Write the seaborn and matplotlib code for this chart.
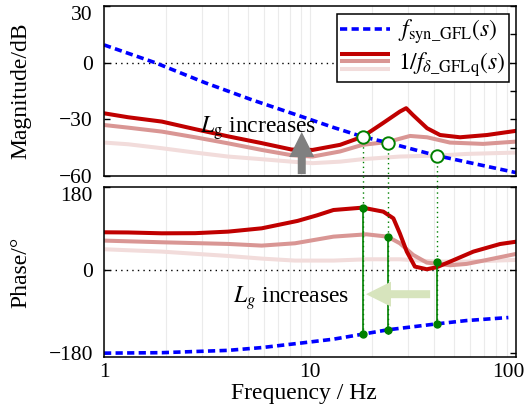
import numpy as np
import pandas as pd
import matplotlib
matplotlib.use("Agg")
import matplotlib.pyplot as plt
import matplotlib.transforms as mtransforms
import seaborn as sns
from matplotlib.lines import Line2D
from matplotlib.legend_handler import HandlerBase

# ---------------- data ----------------
syn_mag_f = [1, 1.77, 3.09, 5.23, 9.14, 13.0, 18.0, 23.8, 41.2, 100]
syn_mag = [9.4, 0.0, -10.6, -19.7, -28.6, -34.3, -39.2, -42.3, -49.2, -58.2]

syn_ph_f = [1, 1.91, 4.0, 5.83, 9.11, 13.0, 18.0, 23.8, 41.2, 57.6, 91.8]
syn_ph = [-180, -179, -174, -168, -158, -149.8, -139, -129.6, -116.7, -109.5, -103]

mag1_f = [1, 1.31, 1.91, 2.77, 4.0, 5.83, 8.15, 10.3, 14.0, 18.0, 22.6, 27.3, 29.3,
          31.6, 37.0, 42.8, 53.5, 72.3, 100]
mag1 = [-26.8, -28.9, -31.2, -35.2, -39.0, -42.6, -46.0, -46.2, -43.5, -39.2, -32.0,
        -25.9, -24.1, -27.7, -34.7, -38.3, -39.5, -38.3, -36.1]

mag2_f = [1, 1.31, 1.91, 2.77, 4.0, 5.83, 8.15, 10.3, 14.0, 18.0, 23.8, 30.6, 37.0,
          47.8, 69.2, 100]
mag2 = [-33.0, -34.4, -36.5, -39.5, -42.7, -46.2, -49.0, -49.7, -47.0, -43.5, -42.0,
        -38.8, -39.5, -42.3, -43.0, -41.8]

mag3_f = [1, 1.31, 1.91, 2.77, 4.0, 5.83, 8.15, 10.3, 14.0, 18.0, 27.3, 41.2, 57.9, 100]
mag3 = [-42.3, -43.2, -45.3, -47.6, -49.7, -51.1, -52.4, -53.2, -52.4, -51.1, -49.7,
        -49.2, -48.3, -47.6]

ph1_f = [1, 1.31, 1.91, 2.77, 4.0, 5.83, 8.7, 10.8, 13.0, 18.0, 22.7, 25.4, 27.3, 29.5,
         32.3, 36.9, 41.2, 47.9, 62.1, 83.6, 100]
ph1 = [81.4, 81.0, 79.2, 79.5, 82.8, 90.0, 106.0, 118.0, 129.6, 134.7, 126.0, 111.6,
       79.0, 39.6, 7.2, 1.4, 5.8, 18.0, 39.6, 56.0, 61.0]

ph2_f = [1, 1.91, 4.0, 5.83, 8.45, 13.0, 18.8, 23.8, 27.3, 31.7, 36.9, 47.9, 57.6, 72.1, 100]
ph2 = [63.4, 59.8, 56.2, 52.6, 57.6, 72.0, 77.0, 72.0, 57.6, 32.4, 15.8, 10.1, 13.0,
       21.6, 34.6]

ph3_f = [1, 1.91, 4.0, 5.83, 8.45, 13.0, 18.8, 27.3, 41.2, 57.6, 100]
ph3 = [44.7, 39.6, 30.2, 24.5, 20.2, 20.2, 23.0, 23.0, 18.0, 18.0, 21.6]

# crossing points
cross_f = [18.0, 23.8, 41.2]
cross_mag = [-39.2, -42.3, -49.2]
cross_ph_red = [134.7, 72.0, 18.0]
cross_ph_syn = [-139.0, -129.6, -116.7]
cross_dot_bottom = [-139.0, -145.0, -116.7]

x_ticks = [1, 10, 100]
x_ticklabels = ["1", "10", "100"]

# ---------------- style ----------------
sns.set_style("white")
plt.rcParams["font.family"] = ["Liberation Serif", "DejaVu Serif"]
plt.rcParams["mathtext.fontset"] = "stix"
plt.rcParams["axes.unicode_minus"] = True
for k in ("text.color", "axes.labelcolor", "xtick.color", "ytick.color"):
    plt.rcParams[k] = "black"

C_DARK = "#C00000"
C_MED = "#D99694"
C_LIGHT = "#F2DCDB"
C_BLUE = "#0000FF"
C_GREEN = "#008000"

fig = plt.figure(figsize=(5.27, 4.11), dpi=100)
ax1 = fig.add_axes([0.19734, 0.57178, 0.78178, 0.41363])
ax2 = fig.add_axes([0.19734, 0.13066, 0.78178, 0.41508])

LW = 2.9
blue_ls = (0, (2.0, 1.2))

for ax in (ax1, ax2):
    ax.set_xscale("log")
    ax.set_xlim(1, 100)
    ax.grid(True, which="both", axis="x", color="#EBEBEB", lw=0.8)
    ax.set_axisbelow(True)
    for s in ax.spines.values():
        s.set_linewidth(1.1)
        s.set_color("black")
    ax.axhline(0, color="black", ls=(0, (1, 3)), lw=1.0, zorder=1.5)

# magnitude curves
sns.lineplot(x=mag3_f, y=mag3, ax=ax1, color=C_LIGHT, lw=LW, estimator=None, sort=False)
sns.lineplot(x=mag2_f, y=mag2, ax=ax1, color=C_MED, lw=LW, estimator=None, sort=False)
sns.lineplot(x=mag1_f, y=mag1, ax=ax1, color=C_DARK, lw=LW, estimator=None, sort=False)
sns.lineplot(x=syn_mag_f, y=syn_mag, ax=ax1, color=C_BLUE, lw=2.6, linestyle=blue_ls,
             estimator=None, sort=False)

# phase curves
sns.lineplot(x=ph3_f, y=ph3, ax=ax2, color=C_LIGHT, lw=LW, estimator=None, sort=False)
sns.lineplot(x=ph2_f, y=ph2, ax=ax2, color=C_MED, lw=LW, estimator=None, sort=False)
sns.lineplot(x=ph1_f, y=ph1, ax=ax2, color=C_DARK, lw=LW, estimator=None, sort=False)
sns.lineplot(x=syn_ph_f, y=syn_ph, ax=ax2, color=C_BLUE, lw=2.6, linestyle=blue_ls,
             estimator=None, sort=False)

# crossing markers and guide lines
for f, m, pr, ps, pb in zip(cross_f, cross_mag, cross_ph_red, cross_ph_syn, cross_dot_bottom):
    ax1.plot([f, f], [m, -66], color=C_GREEN, ls=(0, (1, 2.5)), lw=1.0, clip_on=False, zorder=3)
    ax2.plot([f, f], [180, pb], color=C_GREEN, ls=(0, (1, 2.5)), lw=1.0, zorder=3)
    ax2.plot([f, f], [pr, ps], color=C_GREEN, lw=1.2, zorder=4)
sns.scatterplot(x=cross_f, y=cross_mag, ax=ax1, marker="o", s=80, facecolor="white",
                edgecolor=C_GREEN, linewidth=1.4, zorder=6)
ax2.plot(cross_f, cross_ph_red, "o", color=C_GREEN, ms=5, zorder=6)
ax2.plot(cross_f, cross_ph_syn, "o", color=C_GREEN, ms=5, zorder=6)

# arrows and annotations
ax1.annotate("", xy=(9.12, -36.7), xytext=(9.12, -59.0),
             arrowprops=dict(arrowstyle="simple,head_length=1.0,head_width=1.0,tail_width=0.32",
                             mutation_scale=18, color="#808080", lw=0, shrinkA=0, shrinkB=0),
             zorder=7)
ax1.text(2.92, -37.2, r"$L_\mathrm{g}$ increases", fontsize=17, ha="left", va="baseline")

ax2.annotate("", xy=(18.7, -52.5), xytext=(38.3, -52.5),
             arrowprops=dict(arrowstyle="simple,head_length=1.0,head_width=1.0,tail_width=0.32",
                             mutation_scale=18, color="#D7E4BD", lw=0, shrinkA=0, shrinkB=0),
             zorder=7)
ax2.text(4.23, -71.3, r"$L_g$ increases", fontsize=17, ha="left", va="baseline")

# axes ticks and labels
ax1.set_ylim(-60, 30)
ax1.set_yticks([-60, -30, 0, 30])
ax1.set_yticks([-45, -15, 15], minor=True)
ax2.set_ylim(-189, 180)
ax2.set_yticks([-180, 0, 180])

for ax in (ax1, ax2):
    ax.tick_params(axis="y", which="major", direction="in", length=4.3, width=1.0,
                   left=True, right=True, labelsize=15.5, pad=8)
    ax.tick_params(axis="x", which="both", length=0, labelsize=15.5, pad=4)
ax1.tick_params(axis="y", which="minor", direction="in", length=4.3, width=1.0,
                left=False, right=True)
ax2.tick_params(axis="y", which="minor", left=False, right=False)
ax1.tick_params(axis="x", labelbottom=False)

ax2.set_xticks(x_ticks)
ax2.set_xticklabels(x_ticklabels)

fig.canvas.draw()
ax1.get_yticklabels()[-1].set_va("top")
ax2.get_yticklabels()[-1].set_va("top")
lab100 = ax2.get_xticklabels()[-1]
lab100.set_transform(lab100.get_transform() +
                     mtransforms.ScaledTranslation(-8 / 100, 0, fig.dpi_scale_trans))

ax1.set_ylabel("Magnitude/dB", fontsize=17)
ax2.set_ylabel("Phase/°", fontsize=17)
ax1.yaxis.set_label_coords(-0.177, 0.5)
ax2.yaxis.set_label_coords(-0.177, 0.5)
ax2.set_xlabel("Frequency / Hz", fontsize=17)
ax2.xaxis.set_label_coords(0.485, -0.152)
ax1.set_xlabel("")


# legend with stacked handle
class StackHandler(HandlerBase):
    def __init__(self, colors, lw, sep):
        super().__init__()
        self.colors = colors
        self.lw = lw
        self.sep = sep

    def create_artists(self, legend, orig_handle, xdescent, ydescent, width, height,
                       fontsize, trans):
        arts = []
        yc = (height - ydescent) / 2.0
        for i, c in enumerate(self.colors):
            y = yc + (1 - i) * self.sep
            ln = Line2D([-xdescent, -xdescent + width], [y, y], color=c, lw=self.lw,
                        solid_capstyle="butt")
            ln.set_transform(trans)
            arts.append(ln)
        return arts


h_blue = Line2D([], [], color=C_BLUE, lw=2.6, ls=blue_ls)
h_red = Line2D([], [], color=C_DARK, lw=LW)
leg = ax1.legend(handles=[h_blue, h_red],
                 labels=[r"$f_{\mathrm{syn\_GFL}}(s)$", r"$1/f_{\delta\_\mathrm{GFLq}}(s)$"],
                 loc="upper right", bbox_to_anchor=(0.983, 0.953), borderaxespad=0,
                 fontsize=17, handlelength=2.1, handletextpad=0.35, borderpad=0.15,
                 labelspacing=0.15, frameon=True, fancybox=False, edgecolor="black",
                 framealpha=1,
                 handler_map={h_red: StackHandler([C_DARK, C_MED, C_LIGHT], LW, 5.4)})
leg.get_frame().set_linewidth(1.1)
leg.set_zorder(10)

fig.savefig("out.png", dpi=100)
